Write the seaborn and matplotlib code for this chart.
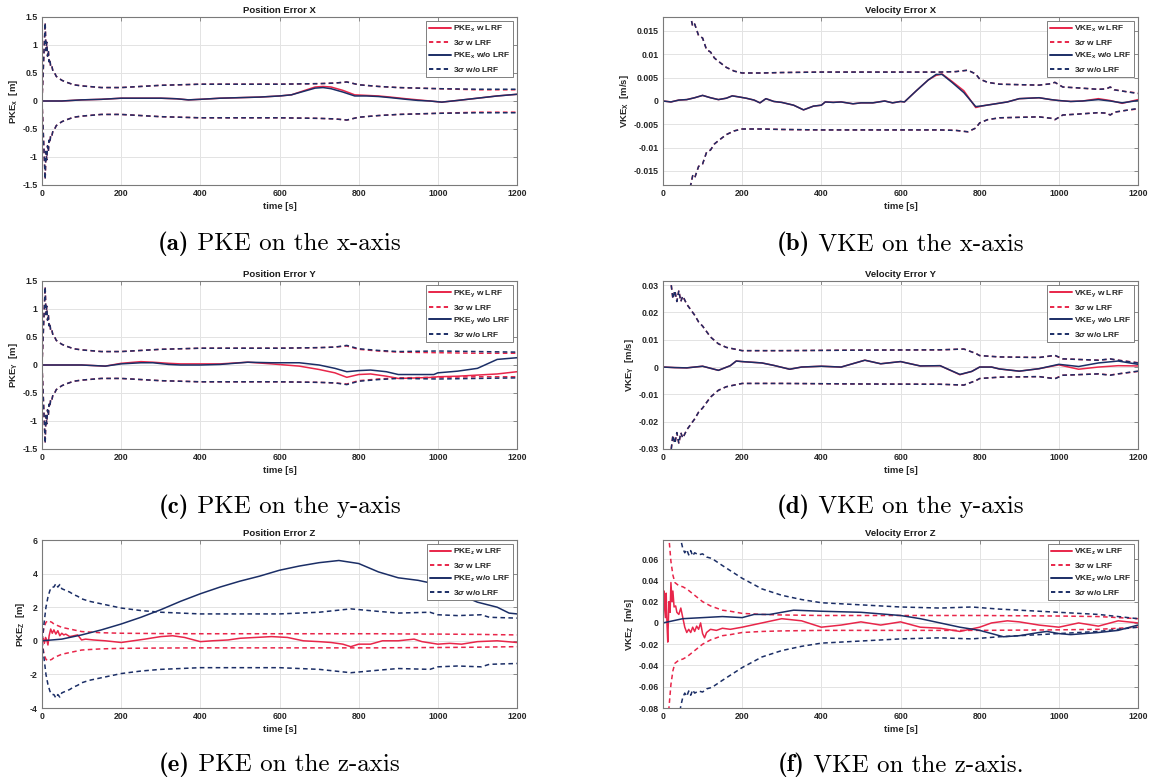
import numpy as np
import pandas as pd
import matplotlib
matplotlib.use("Agg")
import matplotlib.pyplot as plt
from matplotlib.lines import Line2D
from matplotlib.offsetbox import TextArea, HPacker, AnnotationBbox
import seaborn as sns

# ---------------- DATA ----------------
# Panel (a) Position error X
t_a = [0,50,100,150,200,250,300,340,370,400,450,500,550,600,630,660,690,710,730,760,790,820,850,880,920,950,980,1010,1050,1100,1150,1200]
pkx_wo = [0,0.0,0.02,0.03,0.05,0.05,0.05,0.04,0.02,0.03,0.05,0.06,0.07,0.09,0.11,0.17,0.23,0.24,0.22,0.16,0.09,0.09,0.08,0.06,0.03,0.01,0.0,-0.02,0.01,0.05,0.09,0.12]
pkx_w = [0,0.0,0.02,0.03,0.05,0.05,0.05,0.04,0.02,0.03,0.05,0.06,0.07,0.09,0.11,0.18,0.25,0.26,0.25,0.19,0.11,0.10,0.09,0.07,0.04,0.02,0.0,-0.02,0.01,0.05,0.09,0.12]
ts_a = [0,8,10,12,14,16,18,20,22,25,28,32,36,40,50,60,80,100,150,200,250,300,400,500,600,700,740,770,800,850,900,1000,1100,1200]
sig_a_wo = [0,1.4,0.9,1.05,0.8,0.9,0.7,0.75,0.6,0.62,0.52,0.5,0.44,0.42,0.37,0.34,0.29,0.27,0.24,0.24,0.26,0.28,0.30,0.30,0.30,0.31,0.32,0.34,0.29,0.26,0.24,0.22,0.21,0.21]
sig_a_w = [0,1.4,0.9,1.05,0.8,0.9,0.7,0.75,0.6,0.62,0.52,0.5,0.44,0.42,0.37,0.34,0.29,0.27,0.24,0.24,0.26,0.28,0.30,0.30,0.30,0.31,0.32,0.34,0.29,0.26,0.24,0.22,0.20,0.20]

# Panel (b) Velocity error X
t_b = [0,20,40,60,80,100,120,140,160,175,190,210,230,245,260,280,300,330,355,380,400,410,430,450,480,500,530,560,580,600,610,640,670,690,705,730,760,790,810,840,870,900,950,980,1000,1030,1060,1100,1130,1160,1200]
vkx_wo = [0,-0.0002,0.0002,0.0003,0.0007,0.0012,0.0007,0.0003,0.0006,0.0011,0.0009,0.0006,0.0002,-0.0004,0.0005,-0.0001,-0.0003,-0.0009,-0.0019,-0.0011,-0.0009,-0.0002,-0.0003,-0.0002,-0.0006,-0.0004,-0.0004,0.0,-0.0004,-0.0001,-0.0002,0.0022,0.0045,0.0057,0.0057,0.0040,0.0018,-0.0012,-0.0010,-0.0006,-0.0002,0.0005,0.0007,0.0003,0.0001,-0.0001,0.0,0.0003,0.0,-0.0004,0.0001]
vkx_w = [0,-0.0002,0.0002,0.0003,0.0007,0.0012,0.0007,0.0003,0.0006,0.0011,0.0009,0.0006,0.0002,-0.0004,0.0005,-0.0001,-0.0003,-0.0009,-0.0019,-0.0011,-0.0009,-0.0002,-0.0003,-0.0002,-0.0006,-0.0004,-0.0004,0.0,-0.0004,-0.0001,-0.0002,0.0022,0.0045,0.0055,0.0058,0.0042,0.0022,-0.0014,-0.0010,-0.0006,-0.0002,0.0005,0.0007,0.0003,0.0001,-0.0001,0.0,0.0005,0.0001,-0.0005,0.0003]
ts_b = [0,30,50,65,70,75,80,90,100,110,120,130,140,160,180,200,250,300,400,500,600,700,740,770,790,800,820,850,900,950,980,990,1000,1010,1050,1100,1120,1130,1140,1170,1200]
sig_b_wo = [0.045,0.03,0.022,0.0185,0.018,0.016,0.0165,0.014,0.0135,0.011,0.0105,0.0092,0.0085,0.0072,0.0064,0.006,0.006,0.0061,0.0062,0.0062,0.0062,0.0062,0.0063,0.0066,0.0058,0.0047,0.004,0.0036,0.0035,0.0034,0.0037,0.004,0.0035,0.003,0.0028,0.0025,0.0026,0.0030,0.0024,0.002,0.0016]
sig_b_w = [0.045,0.03,0.022,0.0185,0.018,0.016,0.0165,0.014,0.0135,0.011,0.0105,0.0092,0.0085,0.0072,0.0064,0.006,0.006,0.0061,0.0062,0.0062,0.0062,0.0062,0.0063,0.0066,0.0058,0.0047,0.004,0.0036,0.0035,0.0034,0.0037,0.004,0.0035,0.003,0.0028,0.0025,0.0026,0.0030,0.0024,0.002,0.0017]

# Panel (c) Position error Y
t_c = [0,50,100,130,160,200,250,280,320,350,400,450,520,580,650,700,740,770,800,830,870,900,950,990,1000,1050,1100,1150,1200]
pky_wo = [0,0,0,-0.01,-0.02,0.02,0.04,0.04,0.01,0.0,0.0,0.01,0.05,0.04,0.04,0.0,-0.06,-0.12,-0.1,-0.09,-0.12,-0.17,-0.17,-0.17,-0.14,-0.11,-0.06,0.1,0.13]
pky_w = [0,0,0,-0.01,-0.02,0.03,0.06,0.05,0.03,0.02,0.02,0.02,0.05,0.02,-0.02,-0.08,-0.14,-0.22,-0.17,-0.16,-0.2,-0.24,-0.23,-0.22,-0.21,-0.2,-0.18,-0.16,-0.12]
ts_c = [0,8,10,12,14,16,18,20,22,25,28,32,36,40,50,60,80,100,150,200,250,300,400,500,600,700,740,770,800,850,900,1000,1100,1200]
sig_c_wo = [0,1.4,0.9,1.05,0.8,0.9,0.7,0.75,0.6,0.62,0.52,0.5,0.44,0.42,0.37,0.34,0.29,0.27,0.24,0.24,0.26,0.28,0.30,0.30,0.30,0.31,0.32,0.35,0.29,0.26,0.24,0.25,0.24,0.23]
sig_c_w = [0,1.4,0.9,1.05,0.8,0.9,0.7,0.75,0.6,0.62,0.52,0.5,0.44,0.42,0.37,0.34,0.29,0.27,0.24,0.24,0.26,0.28,0.30,0.30,0.30,0.31,0.32,0.34,0.28,0.25,0.23,0.22,0.21,0.21]

# Panel (d) Velocity error Y
t_d = [0,30,60,100,140,170,185,200,250,280,320,350,400,450,510,550,600,650,700,750,780,800,830,850,900,950,1000,1050,1100,1150,1200]
vky_wo = [0,-0.0002,-0.0003,0.0003,-0.0012,0.0005,0.0022,0.002,0.0015,0.0006,-0.0008,0.0,0.0003,0.0,0.0025,0.0012,0.002,0.0004,0.0005,-0.0027,-0.0016,0.0,0.0,-0.0007,-0.0015,-0.0006,0.001,0.0002,0.0015,0.0022,0.001]
vky_w = [0,-0.0002,-0.0003,0.0003,-0.0012,0.0005,0.0022,0.002,0.0015,0.0006,-0.0008,0.0,0.0003,0.0,0.0025,0.0012,0.002,0.0004,0.0005,-0.0028,-0.0016,0.0,0.0,-0.0007,-0.0015,-0.0006,0.0008,-0.0008,0.0,0.0005,0.0004]
ts_d = [0,10,20,25,30,35,40,45,50,60,70,80,90,100,120,140,160,200,300,500,700,760,790,800,850,950,990,1010,1100,1130,1150,1200]
sig_d_wo = [0.05,0.035,0.031,0.025,0.028,0.024,0.028,0.024,0.026,0.023,0.021,0.019,0.0165,0.015,0.011,0.0085,0.0072,0.006,0.006,0.0062,0.0063,0.0066,0.005,0.0042,0.0037,0.0035,0.0043,0.003,0.0025,0.003,0.0025,0.0015]
sig_d_w = [0.05,0.035,0.031,0.025,0.028,0.024,0.028,0.024,0.026,0.023,0.021,0.019,0.0165,0.015,0.011,0.0085,0.0072,0.006,0.006,0.0062,0.0063,0.0066,0.005,0.0042,0.0037,0.0035,0.0042,0.003,0.0025,0.0029,0.0025,0.0016]

# Panel (e) Position error Z
t_e_wo = [0,50,100,150,200,250,300,350,400,450,500,550,600,650,700,750,800,850,900,950,980,1000,1050,1100,1150,1180,1200]
pkz_wo = [0,0.1,0.35,0.65,1.0,1.4,1.85,2.35,2.8,3.2,3.55,3.85,4.2,4.45,4.65,4.78,4.6,4.1,3.75,3.6,3.45,3.25,2.8,2.3,2.0,1.65,1.6]
t_e_w = [0,3,6,9,12,15,18,22,26,30,35,40,45,50,55,60,70,80,90,95,100,110,130,160,200,230,260,300,330,360,400,430,470,500,540,580,620,660,700,730,760,780,800,830,860,900,940,960,1000,1030,1060,1100,1150,1200]
pkz_w = [0,0.15,-0.15,0.2,0.05,-0.25,0.3,0.7,0.45,0.65,0.4,0.6,0.3,0.45,0.35,0.4,0.25,0.3,0.35,0.2,0.05,0.1,0.05,0.0,-0.1,0.0,0.1,0.25,0.3,0.2,-0.05,0.0,0.05,0.15,0.2,0.25,0.2,0.0,-0.05,-0.1,-0.2,-0.35,-0.2,-0.2,0.0,0.0,0.1,-0.05,-0.2,-0.15,-0.2,-0.05,0.0,-0.1]
ts_e = [0,5,10,15,20,25,30,35,40,45,50,60,70,80,90,100,120,150,200,250,300,400,500,600,700,780,850,900,980,1000,1050,1110,1130,1200]
sig_e_wo = [0,1.0,2.0,2.6,3.0,3.2,3.2,3.4,3.2,3.35,3.1,3.0,2.9,2.75,2.65,2.5,2.35,2.2,1.95,1.8,1.7,1.6,1.6,1.6,1.7,1.9,1.75,1.65,1.7,1.55,1.5,1.55,1.4,1.35]
sig_e_w = [0,0.8,1.1,1.2,1.15,1.1,1.0,0.95,0.9,0.85,0.8,0.75,0.7,0.65,0.6,0.55,0.52,0.48,0.45,0.44,0.43,0.42,0.42,0.42,0.42,0.42,0.42,0.41,0.4,0.4,0.39,0.38,0.37,0.35]

# Panel (f) Velocity error Z
t_f_wo = [0,50,100,150,200,230,270,300,330,400,500,600,650,700,750,800,860,900,950,970,1000,1030,1100,1150,1200]
vkz_wo = [0,0.004,0.005,0.006,0.005,0.008,0.008,0.010,0.012,0.011,0.010,0.007,0.004,0.0,-0.004,-0.007,-0.013,-0.012,-0.009,-0.008,-0.010,-0.011,-0.009,-0.007,-0.002]
t_f_w = [0,3,6,8,10,12,15,18,20,23,25,28,32,35,40,45,50,55,60,65,70,75,80,85,90,95,100,105,110,120,135,150,170,200,250,300,350,400,450,500,550,600,650,700,750,800,830,870,900,950,1000,1050,1100,1150,1200]
vkz_w = [0,0.03,0.005,0.028,0.0,-0.018,0.02,0.01,0.038,0.02,0.03,0.015,0.016,0.01,0.008,0.014,0.005,-0.004,-0.009,-0.006,-0.009,-0.004,-0.008,-0.003,-0.006,0.0,-0.01,-0.014,-0.009,-0.006,-0.007,-0.005,-0.006,-0.004,0.0,0.004,0.002,-0.004,-0.002,0.001,-0.002,0.001,-0.004,-0.005,-0.008,-0.004,0.0,0.002,0.001,-0.002,-0.004,0.0,-0.003,0.002,0.0]
ts_f_wo = [40,45,50,55,60,65,70,75,80,90,100,110,120,130,150,175,200,250,300,350,400,500,600,700,780,850,950,1000,1100,1200]
sig_f_wo = [0.09,0.078,0.07,0.066,0.069,0.064,0.068,0.063,0.066,0.064,0.065,0.062,0.061,0.059,0.054,0.048,0.042,0.032,0.026,0.022,0.019,0.017,0.015,0.014,0.015,0.013,0.011,0.010,0.008,0.004]
ts_f_w = [10,15,20,25,30,40,50,60,70,80,100,120,150,170,200,250,300,400,600,800,1000,1100,1200]
sig_f_w = [0.12,0.08,0.058,0.045,0.038,0.035,0.034,0.032,0.029,0.026,0.02,0.016,0.012,0.011,0.009,0.008,0.0075,0.007,0.007,0.007,0.0065,0.006,0.004]

titles = ["Position Error X", "Velocity Error X", "Position Error Y",
          "Velocity Error Y", "Position Error Z", "Velocity Error Z"]
ylabels = [r"PKE$_x$  [m]", r"VKE$_X$  [m/s]", r"PKE$_Y$  [m]",
           r"VKE$_Y$  [m/s]", r"PKE$_Z$  [m]", r"VKE$_Z$  [m/s]"]
legend_names = [r"PKE$_x$", r"VKE$_x$", r"PKE$_y$", r"VKE$_y$", r"PKE$_z$", r"VKE$_z$"]
caption_tags = ["(a)", "(b)", "(c)", "(d)", "(e)", "(f)"]
caption_texts = ["PKE on the x-axis", "VKE on the x-axis", "PKE on the y-axis",
                 "VKE on the y-axis", "PKE on the z-axis", "VKE on the z-axis."]
ylims = [(-1.5, 1.5), (-0.018, 0.018), (-1.5, 1.5), (-0.03, 0.0315), (-4, 6), (-0.08, 0.078)]
yticks = [np.arange(-1.5, 1.51, 0.5), np.arange(-0.015, 0.0151, 0.005),
          np.arange(-1.5, 1.51, 0.5), np.arange(-0.03, 0.0301, 0.01),
          np.arange(-4, 6.1, 2), np.arange(-0.08, 0.0601, 0.02)]

panels = [
    (t_a, pkx_w, t_a, pkx_wo, ts_a, sig_a_w, ts_a, sig_a_wo),
    (t_b, vkx_w, t_b, vkx_wo, ts_b, sig_b_w, ts_b, sig_b_wo),
    (t_c, pky_w, t_c, pky_wo, ts_c, sig_c_w, ts_c, sig_c_wo),
    (t_d, vky_w, t_d, vky_wo, ts_d, sig_d_w, ts_d, sig_d_wo),
    (t_e_w, pkz_w, t_e_wo, pkz_wo, ts_e, sig_e_w, ts_e, sig_e_wo),
    (t_f_w, vkz_w, t_f_wo, vkz_wo, ts_f_w, sig_f_w, ts_f_wo, sig_f_wo),
]

# ---------------- STYLE ----------------
sns.set_style("white")
plt.rcParams['font.family'] = ['Liberation Sans', 'DejaVu Sans']
plt.rcParams['font.weight'] = 'bold'
plt.rcParams['mathtext.fontset'] = 'custom'
plt.rcParams['mathtext.rm'] = 'Liberation Sans:bold'
plt.rcParams['mathtext.it'] = 'Liberation Sans:italic:bold'
plt.rcParams['mathtext.bf'] = 'Liberation Sans:bold'
plt.rcParams['mathtext.default'] = 'rm'

RED = '#E8264A'
NAVY = '#1B2E66'
DASH = (3.0, 2.2)
LW = 1.1

W, H = 1157, 784
fig = plt.figure(figsize=(W / 100, H / 100), dpi=100)

col_left = [42, 663]
col_w = 475
row_top = [17, 281, 540]
row_h = 168
cap_y = [244, 507, 765]

for i, p in enumerate(panels):
    r, c = divmod(i, 2)
    ax = fig.add_axes([col_left[c] / W, 1 - (row_top[r] + row_h) / H, col_w / W, row_h / H])
    tw, vw, two, vwo, tsw, sw, tswo, swo = p
    sw_a = np.asarray(sw); swo_a = np.asarray(swo)

    sns.lineplot(x=tw, y=vw, ax=ax, color=RED, lw=LW, sort=False, estimator=None)
    sns.lineplot(x=tsw, y=sw_a, ax=ax, color=RED, lw=LW, sort=False, estimator=None).lines[-1].set_dashes(DASH)
    sns.lineplot(x=tsw, y=-sw_a, ax=ax, color=RED, lw=LW, sort=False, estimator=None).lines[-1].set_dashes(DASH)
    sns.lineplot(x=two, y=vwo, ax=ax, color=NAVY, lw=LW, sort=False, estimator=None)
    sns.lineplot(x=tswo, y=swo_a, ax=ax, color=NAVY, lw=LW, sort=False, estimator=None).lines[-1].set_dashes(DASH)
    sns.lineplot(x=tswo, y=-swo_a, ax=ax, color=NAVY, lw=LW, sort=False, estimator=None).lines[-1].set_dashes(DASH)

    ax.set_xlim(0, 1200)
    ax.set_ylim(*ylims[i])
    ax.set_xticks(np.arange(0, 1201, 200))
    ax.set_yticks(yticks[i])
    ax.set_yticklabels(["%g" % round(v, 4) for v in yticks[i]])
    ax.grid(True, color='#e3e3e3', lw=0.7)
    ax.tick_params(direction='in', length=3, width=0.6, top=True, right=True,
                   labelsize=6.3, colors='#7a7a7a', labelcolor='#262626', pad=3)
    for lab in ax.get_xticklabels() + ax.get_yticklabels():
        lab.set_fontweight('bold')
    for s in ax.spines.values():
        s.set_color('#7a7a7a'); s.set_linewidth(0.8); s.set_visible(True)
    ax.set_title(titles[i], fontsize=6.8, fontweight='bold', pad=3, color='#1a1a1a')
    ax.set_xlabel("time [s]", fontsize=6.8, fontweight='bold', color='#262626', labelpad=3)
    ax.set_ylabel(ylabels[i], fontsize=6.8, fontweight='bold', color='#262626', labelpad=2)

    name = legend_names[i]
    handles = [Line2D([], [], color=RED, lw=1.4),
               Line2D([], [], color=RED, lw=1.4, dashes=(2.2, 1.6)),
               Line2D([], [], color=NAVY, lw=1.4),
               Line2D([], [], color=NAVY, lw=1.4, dashes=(2.2, 1.6))]
    labels = [name + " w LRF", r"3$\mathit{\sigma}$ w LRF", name + " w/o LRF", r"3$\mathit{\sigma}$ w/o LRF"]
    leg = ax.legend(handles, labels, loc='upper right', fontsize=6, frameon=True, fancybox=False,
                    framealpha=1, edgecolor='#6a6a6a', handlelength=2.6, handletextpad=0.2,
                    borderpad=0.35, labelspacing=0.45, borderaxespad=0.5)
    leg.get_frame().set_linewidth(0.6)
    for tx in leg.get_texts():
        tx.set_fontweight('bold')

    # caption: bold tag + roman text (Computer Modern)
    tag = TextArea(caption_tags[i], textprops=dict(family='cmb10', fontsize=18, color='black', fontweight='normal'))
    body = TextArea(" " + caption_texts[i], textprops=dict(family='cmr10', fontsize=18, color='black', fontweight='normal'))
    pack = HPacker(children=[tag, body], align='baseline', pad=0, sep=0)
    cx = (col_left[c] + col_w / 2) / W
    ab = AnnotationBbox(pack, (cx, 1 - cap_y[r] / H), xycoords='figure fraction',
                        frameon=False, box_alignment=(0.5, 0.5), pad=0)
    fig.add_artist(ab)

fig.savefig("out.png", dpi=100)
